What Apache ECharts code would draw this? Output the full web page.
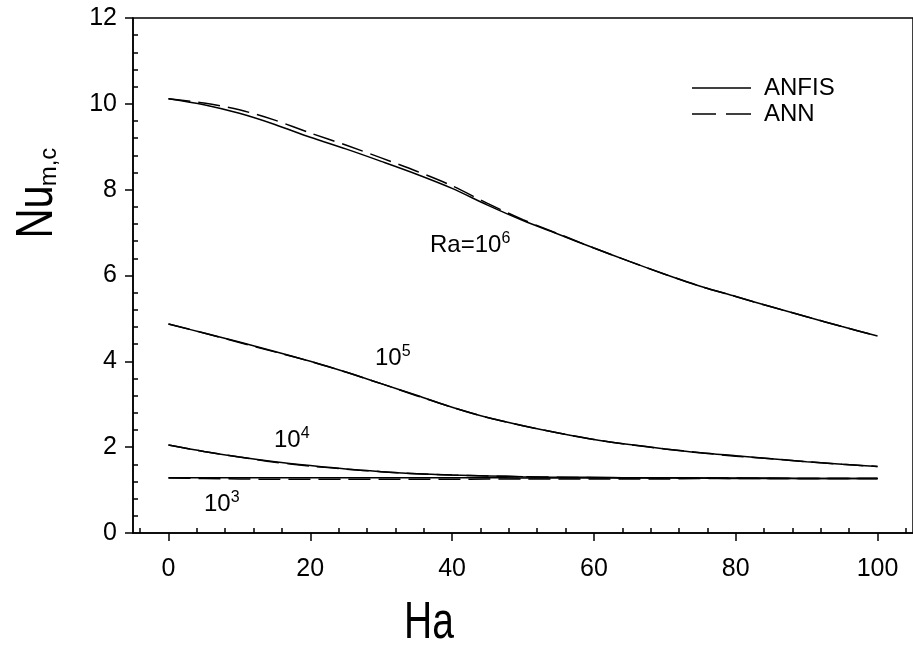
<!DOCTYPE html>
<html>
<head>
<meta charset="utf-8">
<script src="https://cdn.jsdelivr.net/npm/echarts@6/dist/echarts.min.js"></script>
<style>
html,body{margin:0;padding:0;background:#fff;}
#chart{width:913px;height:652px;}
</style>
</head>
<body>
<div id="chart"></div>
<script>
var FONT = '"Liberation Sans", Arial, sans-serif';

// Ha values
var ha = [0, 5, 10, 15, 20, 25, 30, 35, 40, 45, 50, 55, 60, 65, 70, 75, 80, 85, 90, 95, 100];

// Ra = 10^6
var anfis6 = [10.12, 9.98, 9.78, 9.52, 9.22, 8.95, 8.66, 8.36, 8.03, 7.64, 7.28, 6.96, 6.64, 6.33, 6.03, 5.75, 5.51, 5.27, 5.04, 4.81, 4.59];
var ann6   = [10.12, 10.02, 9.86, 9.62, 9.32, 9.04, 8.74, 8.43, 8.09, 7.68, 7.30, 6.97, 6.64, 6.33, 6.03, 5.75, 5.51, 5.27, 5.04, 4.81, 4.59];
// Ra = 10^5
var anfis5 = [4.87, 4.66, 4.45, 4.23, 4.00, 3.75, 3.48, 3.21, 2.93, 2.69, 2.50, 2.33, 2.18, 2.06, 1.96, 1.87, 1.80, 1.73, 1.66, 1.60, 1.55];
var ann5   = [4.87, 4.66, 4.44, 4.22, 4.00, 3.75, 3.48, 3.20, 2.93, 2.69, 2.50, 2.33, 2.18, 2.06, 1.96, 1.87, 1.79, 1.73, 1.66, 1.60, 1.55];
// Ra = 10^4
var anfis4 = [2.05, 1.90, 1.77, 1.66, 1.57, 1.49, 1.43, 1.38, 1.35, 1.33, 1.31, 1.30, 1.30, 1.29, 1.29, 1.28, 1.28, 1.28, 1.27, 1.27, 1.27];
var ann4   = [2.05, 1.90, 1.77, 1.65, 1.56, 1.49, 1.43, 1.38, 1.35, 1.33, 1.31, 1.30, 1.29, 1.29, 1.28, 1.28, 1.28, 1.27, 1.27, 1.27, 1.27];
// Ra = 10^3
var anfis3 = [1.29, 1.29, 1.29, 1.29, 1.29, 1.29, 1.29, 1.29, 1.29, 1.29, 1.28, 1.28, 1.28, 1.28, 1.28, 1.28, 1.27, 1.27, 1.27, 1.27, 1.27];
var ann3   = [1.28, 1.27, 1.26, 1.25, 1.25, 1.25, 1.25, 1.25, 1.25, 1.26, 1.26, 1.26, 1.26, 1.26, 1.26, 1.27, 1.27, 1.27, 1.27, 1.27, 1.27];

// ticks
var xTicks = [0, 20, 40, 60, 80, 100];
var xMinor = [];
for (var v = -4; v <= 104; v += 4) { if (v % 20 !== 0) xMinor.push(v); }
var yMinor = [];
for (var k = 1; k < 30; k++) { if (k % 5 !== 0) yMinor.push(+(k * 0.4).toFixed(1)); }

function curve(name, vals, dashed) {
  return {
    name: name,
    type: 'line',
    data: ha.map(function (h, i) { return [h, vals[i]]; }),
    symbol: 'none',
    smooth: 0.3,
    animation: false,
    lineStyle: { color: '#000', width: 1.5, type: dashed ? [22, 8] : 'solid' },
    itemStyle: { color: '#000' }
  };
}

var tickStyle = { color: '#000', width: 1.5 };
var sup = { fontSize: 16, fontFamily: FONT, lineHeight: 16, verticalAlign: 'top', fill: '#000' };
var main = { fontSize: 24, fontFamily: FONT, lineHeight: 28, fill: '#000' };

var chart = echarts.init(document.getElementById('chart'));
chart.setOption({
  backgroundColor: '#fff',
  animation: false,
  grid: {
    left: 133, right: -1, top: 18, bottom: 119,
    show: true, borderColor: '#000', borderWidth: 1.5
  },
  legend: {
    data: [
      { name: 'ANFIS', icon: 'path://M0,0h59v1.5h-59z' },
      { name: 'ANN', icon: 'path://M0,0h24v1.5h-24z M34,0h25v1.5h-25z' }
    ],
    orient: 'vertical',
    left: 692, top: 76,
    padding: 0,
    itemWidth: 59, itemHeight: 1.5, itemGap: 2,
    textStyle: { fontSize: 24, color: '#000', fontFamily: FONT, padding: [0, 0, 0, 8] }
  },
  xAxis: [
    {
      type: 'value', min: -5, max: 105, position: 'bottom',
      axisLine: { onZero: false, lineStyle: tickStyle },
      axisTick: { customValues: xTicks, length: 8, lineStyle: tickStyle },
      axisLabel: { customValues: xTicks, fontSize: 25, color: '#000', fontFamily: FONT, margin: 24 },
      splitLine: { show: false }
    },
    {
      type: 'value', min: -5, max: 105, position: 'bottom',
      axisLine: { show: false, onZero: false },
      axisTick: { inside: true, customValues: xMinor, length: 5, lineStyle: tickStyle },
      axisLabel: { show: false },
      splitLine: { show: false }
    }
  ],
  yAxis: [
    {
      type: 'value', min: 0, max: 12, interval: 2, position: 'left',
      axisLine: { onZero: false, lineStyle: tickStyle },
      axisTick: { length: 8, lineStyle: tickStyle },
      axisLabel: { fontSize: 25, color: '#000', fontFamily: FONT, margin: 16 },
      splitLine: { show: false }
    },
    {
      type: 'value', min: 0, max: 12, position: 'left',
      axisLine: { show: false, onZero: false },
      axisTick: { inside: true, customValues: yMinor, length: 5, lineStyle: tickStyle },
      axisLabel: { show: false },
      splitLine: { show: false }
    }
  ],
  series: [
    curve('ANFIS', anfis6, false),
    curve('ANFIS', anfis5, false),
    curve('ANFIS', anfis4, false),
    curve('ANFIS', anfis3, false),
    curve('ANN', ann6, true),
    curve('ANN', ann5, true),
    curve('ANN', ann4, true),
    curve('ANN', ann3, true)
  ],
  graphic: [
    { type: 'text', x: 430, y: 231, style: { text: '{m|Ra=10}{s|6}', rich: { m: main, s: sup }, align: 'left', verticalAlign: 'top' } },
    { type: 'text', x: 375, y: 344, style: { text: '{m|10}{s|5}', rich: { m: main, s: sup }, align: 'left', verticalAlign: 'top' } },
    { type: 'text', x: 274, y: 426, style: { text: '{m|10}{s|4}', rich: { m: main, s: sup }, align: 'left', verticalAlign: 'top' } },
    { type: 'text', x: 204, y: 490, style: { text: '{m|10}{s|3}', rich: { m: main, s: sup }, align: 'left', verticalAlign: 'top' } },
    // axis titles
    { type: 'text', x: 429, y: 624, scaleX: 0.75,
      style: { text: 'Ha', fontSize: 52, fontFamily: FONT, fill: '#000', align: 'center', verticalAlign: 'middle' } },
    { type: 'text', x: 38, y: 212, rotation: Math.PI / 2, scaleX: 0.8,
      style: { text: 'Nu', fontSize: 52, fontFamily: FONT, fill: '#000', align: 'center', verticalAlign: 'middle' } },
    { type: 'text', x: 49, y: 167, rotation: Math.PI / 2,
      style: { text: 'm,c', fontSize: 24, fontFamily: FONT, fill: '#000', align: 'center', verticalAlign: 'middle' } }
  ]
});
</script>
</body>
</html>
